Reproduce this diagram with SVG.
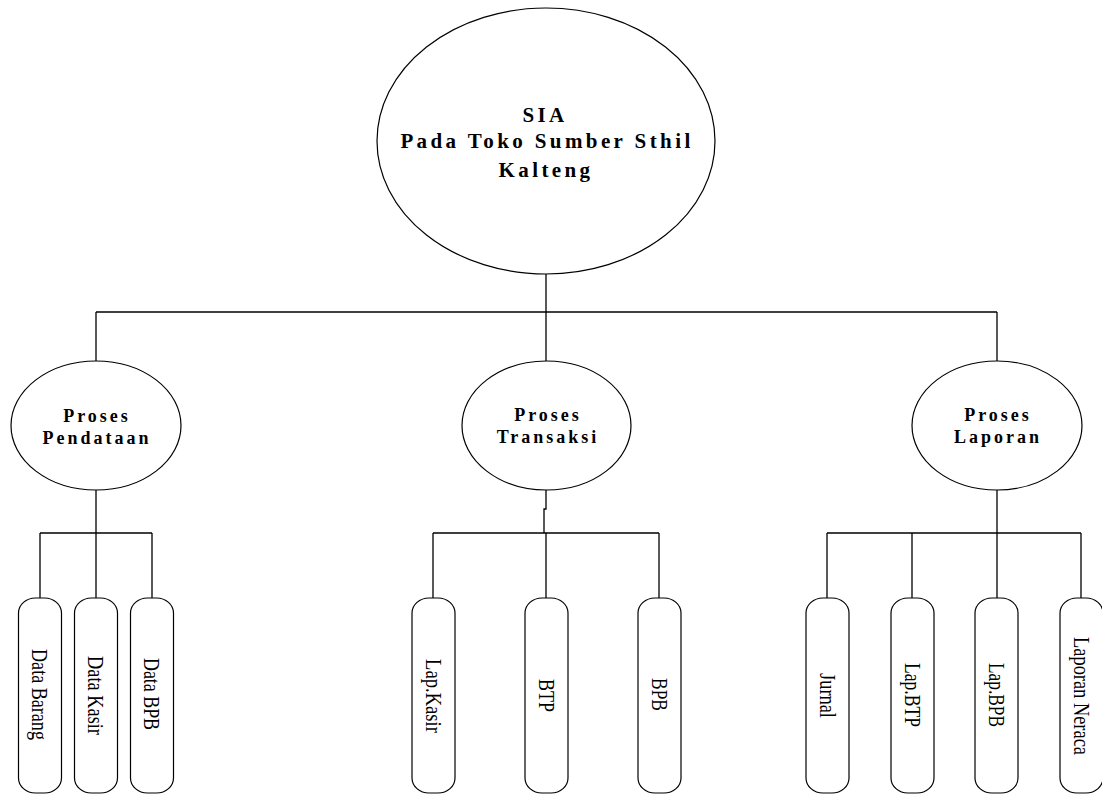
<svg xmlns="http://www.w3.org/2000/svg" width="1102" height="794" viewBox="0 0 1102 794">
<style>
.shape{fill:#fff;stroke:#000;stroke-width:1.2}
.conn{fill:none;stroke:#000;stroke-width:1.3}
.title{font-family:"Liberation Serif","Times New Roman",serif;font-weight:bold;font-size:21px;letter-spacing:3.4px;fill:#000}
.sub{font-family:"Liberation Serif","Times New Roman",serif;font-weight:bold;font-size:18px;letter-spacing:3px;fill:#000}
.leaf{font-family:"Liberation Serif","Times New Roman",serif;font-size:23px;fill:#000}
</style>
<rect width="1102" height="794" fill="#fff"/>
<g id="connectors">
<path class="conn" d="M546 274 V312 M96 312 H997 M96 312 V361 M546 312 V361 M997 312 V361"/>
<path class="conn" d="M96 490 V533 M40 533 H152 M40 533 V598 M96 533 V598 M152 533 V598"/>
<path class="conn" d="M546 490 V509 H544 V533 M433 533 H659 M433 533 V598 M546 533 V598 M659 533 V598"/>
<path class="conn" d="M997 490 V533 M827 533 H1081 M827 533 V598 M912 533 V598 M997 533 V598 M1081 533 V598"/>
</g>
<g id="root">
<ellipse class="shape" cx="546" cy="141" rx="169" ry="133"/>
<text class="title" text-anchor="middle" x="545" y="122">SIA</text>
<text class="title" text-anchor="middle" x="547" y="148">Pada Toko Sumber Sthil</text>
<text class="title" text-anchor="middle" x="546" y="177">Kalteng</text>
</g>
<g id="pendataan">
<ellipse class="shape" cx="96" cy="425.5" rx="85" ry="64.5"/>
<text class="sub" text-anchor="middle" x="97" y="422">Proses</text>
<text class="sub" text-anchor="middle" x="97" y="444">Pendataan</text>
</g>
<g id="transaksi">
<ellipse class="shape" cx="546.5" cy="425.5" rx="84.5" ry="64.5"/>
<text class="sub" text-anchor="middle" x="548" y="421">Proses</text>
<text class="sub" text-anchor="middle" x="548" y="443">Transaksi</text>
</g>
<g id="laporan">
<ellipse class="shape" cx="997" cy="425.5" rx="85" ry="64.5"/>
<text class="sub" text-anchor="middle" x="998" y="421">Proses</text>
<text class="sub" text-anchor="middle" x="998" y="443">Laporan</text>
</g>
<g id="data-barang">
<rect class="shape" x="18.5" y="598" width="43" height="195" rx="17" ry="15"/>
<text class="leaf" text-anchor="middle" transform="translate(32 694.5) rotate(90) scale(0.787 1)">Data Barang</text>
</g>
<g id="data-kasir">
<rect class="shape" x="74.5" y="598" width="43" height="195" rx="17" ry="15"/>
<text class="leaf" text-anchor="middle" transform="translate(88 695.5) rotate(90) scale(0.798 1)">Data Kasir</text>
</g>
<g id="data-bpb">
<rect class="shape" x="130.5" y="598" width="43" height="195" rx="17" ry="15"/>
<text class="leaf" text-anchor="middle" transform="translate(144 694) rotate(90) scale(0.778 1)">Data BPB</text>
</g>
<g id="lap-kasir">
<rect class="shape" x="412" y="598" width="43" height="195" rx="17" ry="15"/>
<text class="leaf" text-anchor="middle" transform="translate(425.5 696) rotate(90) scale(0.81 1)">Lap.Kasir</text>
</g>
<g id="btp">
<rect class="shape" x="525" y="598" width="43" height="195" rx="17" ry="15"/>
<text class="leaf" text-anchor="middle" transform="translate(538.5 695.5) rotate(90) scale(0.782 1)">BTP</text>
</g>
<g id="bpb">
<rect class="shape" x="638" y="598" width="43" height="195" rx="17" ry="15"/>
<text class="leaf" text-anchor="middle" transform="translate(651.5 694.5) rotate(90) scale(0.756 1)">BPB</text>
</g>
<g id="jurnal">
<rect class="shape" x="806" y="598" width="43" height="195" rx="17" ry="15"/>
<text class="leaf" text-anchor="middle" transform="translate(820 695.5) rotate(90) scale(0.8 1)">Jurnal</text>
</g>
<g id="lap-btp">
<rect class="shape" x="891" y="598" width="43" height="195" rx="17" ry="15"/>
<text class="leaf" text-anchor="middle" transform="translate(904.5 695) rotate(90) scale(0.765 1)">Lap.BTP</text>
</g>
<g id="lap-bpb">
<rect class="shape" x="975" y="598" width="43" height="195" rx="17" ry="15"/>
<text class="leaf" text-anchor="middle" transform="translate(989 695) rotate(90) scale(0.753 1)">Lap.BPB</text>
</g>
<g id="laporan-neraca">
<rect class="shape" x="1060" y="598" width="43" height="195" rx="17" ry="15"/>
<text class="leaf" text-anchor="middle" transform="translate(1073.5 696) rotate(90) scale(0.8 1)">Laporan Neraca</text>
</g>
</svg>
